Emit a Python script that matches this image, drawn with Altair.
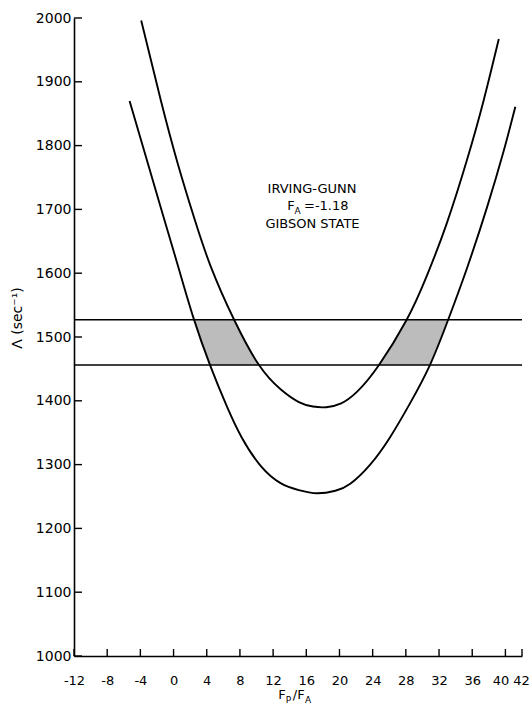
import altair as alt
import pandas as pd

# ---- data ----
inner_x = [-3.9, -1.5, 0.5, 2.5, 4.5, 7.3, 10.3, 12.9, 15.1, 16.8, 18.4, 20.2, 22.1, 24.7, 28.1, 30.5, 32.9, 35.4, 37.4, 39.2]
inner_y = [1996, 1869, 1772, 1686, 1610, 1527, 1456, 1418, 1398, 1391, 1390, 1396, 1414, 1455, 1527, 1595, 1677, 1779, 1872, 1967]

outer_x = [-5.3, -3.5, -1.5, 0.5, 2.4, 4.4, 6.4, 8.2, 10.5, 12.9, 15.1, 17.3, 19.5, 21.3, 23.7, 26.1, 28.5, 30.9, 33.1, 35.4, 37.8, 39.8, 41.2]
outer_y = [1870, 1790, 1701, 1613, 1530, 1456, 1392, 1343, 1298, 1271, 1260, 1255, 1259, 1270, 1300, 1343, 1396, 1456, 1527, 1609, 1704, 1792, 1861]

lines_y = [1456, 1527]

band_y = [1456, 1492, 1527]
left_lo = [4.4, 3.4, 2.5]
left_hi = [10.3, 8.75, 7.3]
right_lo = [24.7, 26.4, 28.1]
right_hi = [30.9, 32.0, 33.1]

x_ticks = [-12, -8, -4, 0, 4, 8, 12, 16, 20, 24, 28, 32, 36, 40, 42]
y_ticks = [1000, 1100, 1200, 1300, 1400, 1500, 1600, 1700, 1800, 1900, 2000]

W, H = 448, 638
FONT = "DejaVu Sans"

xs = alt.Scale(domain=[-12, 42], nice=False, zero=False)
ys = alt.Scale(domain=[1000, 2000], nice=False, zero=False)

xaxis = alt.Axis(values=x_ticks, ticks=False, grid=False, domainColor="black", domainWidth=1.6,
                 labelColor="black", labelFont=FONT, labelFontSize=13, labelPadding=18,
                 labelFlush=False, labelOverlap=False, title=None,
                 labelExpr="'' + datum.value",
                 labelOffset={"condition": [{"test": "datum.value == 40", "value": -5},
                                            {"test": "datum.value == 42", "value": -1}],
                              "value": 0})
yaxis = alt.Axis(values=y_ticks, ticks=False, grid=False, domainColor="black", domainWidth=1.6,
                 labelColor="black", labelFont=FONT, labelFontSize=14, labelPadding=3,
                 labelFlush=False, labelOverlap=False, title=None, format="d")

curves = pd.DataFrame({
    "x": inner_x + outer_x,
    "y": inner_y + outer_y,
    "c": ["inner"] * len(inner_x) + ["outer"] * len(outer_x),
})
bands = pd.DataFrame({
    "y": band_y * 2,
    "x1": left_lo + right_lo,
    "x2": left_hi + right_hi,
    "b": ["L"] * len(band_y) + ["R"] * len(band_y),
})

band = alt.Chart(bands).mark_area(orient="horizontal", color="#bcbcbc").encode(
    y=alt.Y("y:Q", scale=ys, axis=yaxis),
    x=alt.X("x1:Q", scale=xs, axis=xaxis),
    x2="x2:Q",
    detail="b:N",
)

curve = alt.Chart(curves).mark_line(color="black", strokeWidth=1.9, interpolate="natural").encode(
    x=alt.X("x:Q", scale=xs, axis=xaxis),
    y=alt.Y("y:Q", scale=ys, axis=yaxis),
    detail="c:N",
)

hlines = alt.Chart(pd.DataFrame({"y": lines_y})).mark_rule(color="black", strokeWidth=1.6).encode(
    y=alt.Y("y:Q", scale=ys, axis=yaxis),
)

xt = alt.Chart(pd.DataFrame({"t": x_ticks})).mark_rule(color="black", strokeWidth=1.4).encode(
    x=alt.X("t:Q", scale=xs, axis=xaxis),
    y=alt.value(H),
    y2=alt.value(H - 7),
)
yt = alt.Chart(pd.DataFrame({"t": y_ticks})).mark_rule(color="black", strokeWidth=1.4).encode(
    y=alt.Y("t:Q", scale=ys, axis=yaxis),
    x=alt.value(0),
    x2=alt.value(8),
)


def label(txt, x, y, size=13, align="center", angle=0):
    return alt.Chart(pd.DataFrame({"t": [txt]})).mark_text(
        font=FONT, fontSize=size, align=align, baseline="middle", color="black", angle=angle
    ).encode(text="t:N", x=alt.value(x), y=alt.value(y))


texts = [
    label("IRVING-GUNN", 238, 171),
    label("F", 217, 188),
    label("A", 223.5, 193, size=9),
    label("=-1.18", 230, 188, align="left"),
    label("GIBSON STATE", 238.5, 206),
    # x-axis title F_P / F_A
    label("F", 208, 677),
    label("P", 214.5, 682, size=9),
    label("/", 221, 677),
    label("F", 227, 677),
    label("A", 234, 682, size=9),
    # y-axis title
    label("Λ (sec⁻¹)", -56, 300, size=14, angle=270),
]

chart = alt.layer(band, curve, hlines, xt, yt, *texts).properties(
    width=W,
    height=H,
    autosize=alt.AutoSizeParams(type="none"),
    padding={"left": 74, "top": 18, "right": 7, "bottom": 48},
    background="white",
).configure_view(stroke=None)

chart.save("out.html", embed_options={"renderer": "svg", "actions": False})
